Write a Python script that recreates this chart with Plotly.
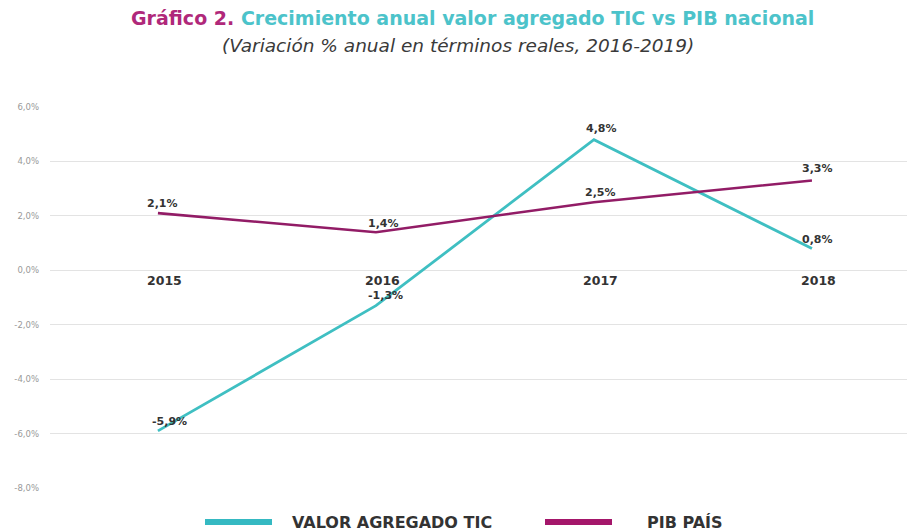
import plotly.graph_objects as go

years = ["2015", "2016", "2017", "2018"]
tic = [-5.9, -1.3, 4.8, 0.8]
pib = [2.1, 1.4, 2.5, 3.3]
tic_labels = ["-5,9%", "-1,3%", "4,8%", "0,8%"]
pib_labels = ["2,1%", "1,4%", "2,5%", "3,3%"]
ytick_vals = [6, 4, 2, 0, -2, -4, -6, -8]
ytick_text = ["6,0%", "4,0%", "2,0%", "0,0%", "-2,0%", "-4,0%", "-6,0%", "-8,0%"]

TEAL = "#3fbfc2"
MAG = "#921c66"
LBL = dict(family="DejaVu Sans, sans-serif", size=11, color="#333333")
YR = dict(family="DejaVu Sans, sans-serif", size=12.5, color="#333333")

fig = go.Figure()
fig.add_trace(go.Scatter(x=[0, 1, 2, 3], y=tic, mode="lines",
                         line=dict(color=TEAL, width=2.8), name="VALOR AGREGADO TIC",
                         showlegend=False))
fig.add_trace(go.Scatter(x=[0, 1, 2, 3], y=pib, mode="lines",
                         line=dict(color=MAG, width=2.6), name="PIB PAÍS",
                         showlegend=False))

ann = []
for i, y in enumerate(years):
    ann.append(dict(x=i, y=0, xref="x", yref="y", text="<b>" + y + "</b>",
                    showarrow=False, yshift=-10, xshift=7, font=YR))
tic_shift = [(12, 9), (10, 10), (8, 11), (6, 9)]
pib_shift = [(5, 10), (8, 9), (7, 10), (6, 12)]
for i, (v, t) in enumerate(zip(tic, tic_labels)):
    ann.append(dict(x=i, y=v, xref="x", yref="y", text="<b>" + t + "</b>",
                    showarrow=False, xshift=tic_shift[i][0], yshift=tic_shift[i][1], font=LBL))
for i, (v, t) in enumerate(zip(pib, pib_labels)):
    ann.append(dict(x=i, y=v, xref="x", yref="y", text="<b>" + t + "</b>",
                    showarrow=False, xshift=pib_shift[i][0], yshift=pib_shift[i][1], font=LBL))

H = 531 - 107 - 43
W = 907 - 50
def px(x):
    return (x - 50) / W
def py(y):
    return (531 - 43 - y) / H

ann.append(dict(xref="paper", yref="paper", x=px(472), y=py(18), xanchor="center", yanchor="middle",
                text="<b><span style='color:#b0287a'>Gráfico 2.</span> "
                     "<span style='color:#4cc3ca'>Crecimiento anual valor agregado TIC vs PIB nacional</span></b>",
                showarrow=False, font=dict(family="DejaVu Sans, sans-serif", size=19)))
ann.append(dict(xref="paper", yref="paper", x=px(458), y=py(46), xanchor="center", yanchor="middle",
                text="<i>(Variación % anual en términos reales, 2016-2019)</i>",
                showarrow=False, font=dict(family="DejaVu Sans, sans-serif", size=18.5, color="#3a3a3a")))
ann.append(dict(xref="paper", yref="paper", x=px(290), y=py(522), xanchor="left", yanchor="middle",
                text="<b>VALOR AGREGADO TIC</b>", showarrow=False,
                font=dict(family="DejaVu Sans, sans-serif", size=16, color="#333333")))
ann.append(dict(xref="paper", yref="paper", x=px(645), y=py(522), xanchor="left", yanchor="middle",
                text="<b>PIB PAÍS</b>", showarrow=False,
                font=dict(family="DejaVu Sans, sans-serif", size=16, color="#333333")))

fig.update_layout(
    width=907, height=531,
    margin=dict(l=50, r=0, t=107, b=43),
    paper_bgcolor="white", plot_bgcolor="white",
    showlegend=False,
    xaxis=dict(range=[-0.495, 3.436], showgrid=False, zeroline=False,
               showticklabels=False, showline=False),
    yaxis=dict(range=[-8, 6], tickvals=ytick_vals, ticktext=ytick_text,
               showgrid=True, gridcolor="#e3e3e3", gridwidth=1.3, zeroline=False,
               showline=False, ticks="", ticklabelstandoff=10,
               tickfont=dict(family="DejaVu Sans, sans-serif", size=8.5, color="#999999")),
    annotations=ann,
)

fig.add_shape(type="line", xref="paper", yref="paper", x0=px(205), x1=px(272),
              y0=py(522), y1=py(522), line=dict(color="#35b9c2", width=6))
fig.add_shape(type="line", xref="paper", yref="paper", x0=px(545), x1=px(612),
              y0=py(522), y1=py(522), line=dict(color="#a4166a", width=6))

fig.write_html("out.html", config={"displayModeBar": False},
               post_script="document.body.style.margin='0';document.body.style.padding='0';")
